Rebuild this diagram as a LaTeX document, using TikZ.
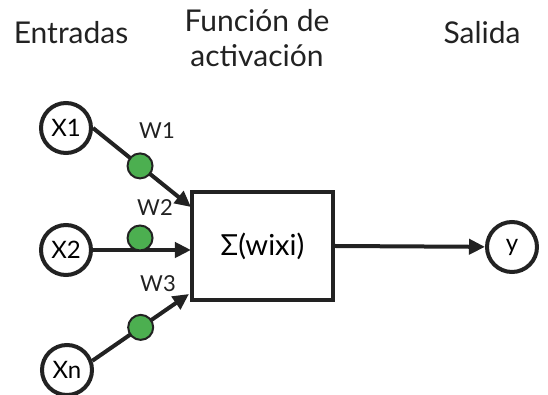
\documentclass[tikz,border=0pt]{standalone}
\usepackage{fontspec}
\setmainfont{Lato}
\usetikzlibrary{arrows.meta,positioning}
\definecolor{verde}{RGB}{76,175,80}
\definecolor{tinta}{RGB}{34,34,34}

\begin{document}
\begin{tikzpicture}[
    x=0.5pt, y=-0.5pt,
    line width=2pt,
    entrada/.style={circle, draw=tinta, fill=white, minimum size=25pt, inner sep=0pt, font=\fontsize{12}{13}\selectfont},
    suma/.style={rectangle, draw=tinta, minimum width=70.5pt, minimum height=54pt, font=\fontsize{14.5}{16}\selectfont},
    peso/.style={circle, draw=tinta, fill=verde, line width=1pt, minimum size=12.5pt, inner sep=0pt},
    etiqueta/.style={font=\fontsize{11}{12}\selectfont, text=tinta},
    titulo/.style={font=\fontsize{15}{17.5}\selectfont, align=center, text=tinta},
    flecha/.style={draw=tinta, -{Triangle[length=8pt,width=7.5pt]}}
]
\useasboundingbox (0,0) rectangle (548,395);
% Titulos
\node[titulo] (tent) at (71,33) {Entradas};
\node[titulo] (tfun) at (257,38) {Función de\\activación};
\node[titulo] (tsal) at (482,33) {Salida};
% Entradas
\node[entrada] (x1) at (66,128) {X1};
\node[entrada] (x2) at (66,250) {X2};
\node[entrada] (xn) at (67,370) {Xn};
% Funcion de activacion
\node[suma] (sum) at (262.5,246) {Σ(wixi)};
% Salida
\node[entrada] (y) at (512,247) {y};
% Puntos de llegada
\coordinate (in1) at (191,207);
\coordinate (in2) at (191,250);
\coordinate (in3) at (189,294);
% Flechas con pesos
\draw[flecha] (x1.east) -- node[peso, pos=0.48] (p1) {} (in1);
\draw[flecha] (x2.east) -- node[peso, pos=0.48, yshift=6pt] (p2) {} (in2);
\draw[flecha] (xn.20) -- node[peso, pos=0.5] (p3) {} (in3);
\draw[flecha] (sum.east) -- (y);
% Pesos
\node[etiqueta] (w1) at (157,131) {W1};
\node[etiqueta] (w2) at (155,208) {W2};
\node[etiqueta] (w3) at (158,284) {W3};
\end{tikzpicture}
\end{document}
